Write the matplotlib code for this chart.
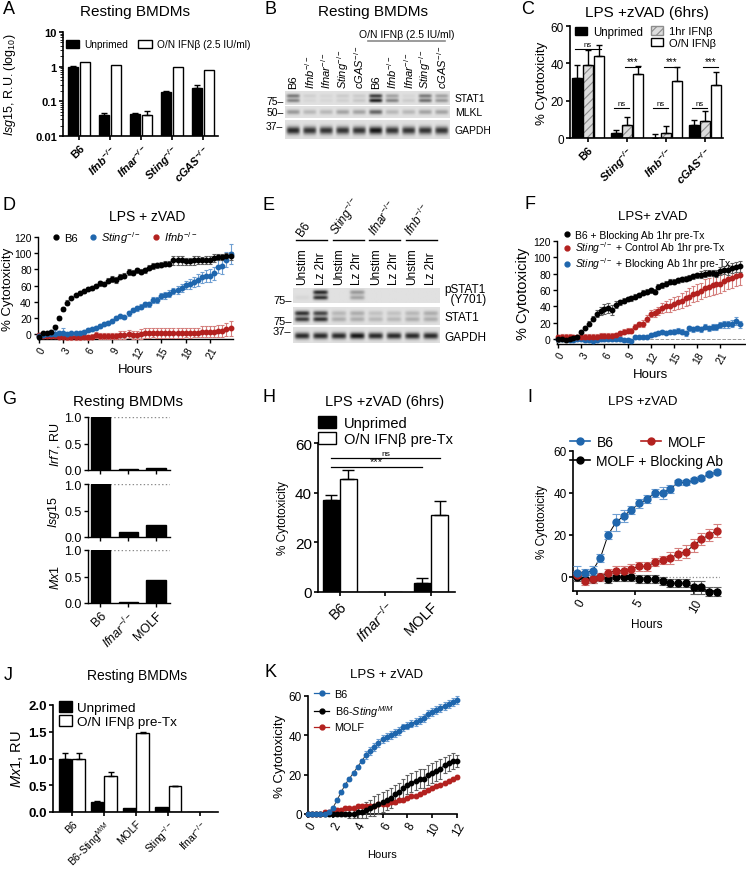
import numpy as np
import matplotlib
matplotlib.use('Agg')
import matplotlib.pyplot as plt
from matplotlib.patches import Patch
from matplotlib.lines import Line2D
from matplotlib.transforms import blended_transform_factory as blend

plt.rcParams['font.family'] = ['Liberation Sans', 'DejaVu Sans']
plt.rcParams['mathtext.fontset'] = 'custom'
plt.rcParams['mathtext.rm'] = 'Liberation Sans'
plt.rcParams['mathtext.it'] = 'Liberation Sans:italic'
plt.rcParams['mathtext.bf'] = 'Liberation Sans:italic:bold'
plt.rcParams['hatch.linewidth'] = 0.8

# ---- A: Isg15 expression (log) ----
A_labels = ['B6', r'$\mathbf{Ifnb}^{\mathbf{-/-}}$', r'$\mathbf{Ifnar}^{\mathbf{-/-}}$',
            r'$\mathbf{Sting}^{\mathbf{-/-}}$', r'$\mathbf{cGAS}^{\mathbf{-/-}}$']
A_unprimed = [1.0, 0.04, 0.043, 0.18, 0.24]
A_unprimed_err = [0.05, 0.006, 0.004, 0.015, 0.06]
A_ifn = [1.35, 1.1, 0.04, 0.95, 0.78]
A_ifn_err = [0, 0, 0.013, 0, 0]

# ---- B: western blot band intensities (10 lanes) ----
B_lanes = ['B6', r'$\mathit{Ifnb}^{-/-}$', r'$\mathit{Ifnar}^{-/-}$', r'$\mathit{Sting}^{-/-}$',
           r'$\mathit{cGAS}^{-/-}$', 'B6', r'$\mathit{Ifnb}^{-/-}$', r'$\mathit{Ifnar}^{-/-}$',
           r'$\mathit{Sting}^{-/-}$', r'$\mathit{cGAS}^{-/-}$']
B_stat1_up = [0.5, 0.08, 0.05, 0.1, 0.1, 0.8, 0.3, 0.05, 0.5, 0.3]
B_stat1_lo = [0.45, 0.05, 0.05, 0.08, 0.12, 0.95, 0.45, 0.1, 0.55, 0.35]
B_mlkl = [0.35, 0.2, 0.2, 0.3, 0.3, 0.6, 0.2, 0.2, 0.3, 0.3]
B_gapdh = [0.9, 0.85, 0.85, 0.85, 0.85, 1.0, 0.85, 0.85, 0.85, 0.85]

# ---- C: cytotoxicity 6 h ----
C_labels = ['B6', r'$\mathbf{Sting}^{\mathbf{-/-}}$', r'$\mathbf{Ifnb}^{\mathbf{-/-}}$',
            r'$\mathbf{cGAS}^{\mathbf{-/-}}$']
C_unprimed = [32, 2.5, 0, 7]
C_unprimed_err = [7, 2, 2, 2.5]
C_1hr = [39, 7, 2.5, 9]
C_1hr_err = [8, 4.5, 4, 5.5]
C_on = [44, 34.5, 30.5, 28.5]
C_on_err = [6, 4, 7.5, 7]
# (group, bar a, bar b, height, label)
C_sig = [(0, 0, 2, 47.5, 'ns'), (1, 0, 1, 16, 'ns'), (1, 1, 2, 38, '***'),
         (2, 0, 1, 16, 'ns'), (2, 1, 2, 38, '***'), (3, 0, 1, 16, 'ns'), (3, 1, 2, 38, '***')]

# ---- D: LPS + zVAD time course, 0.5 h steps ----
D_t = np.arange(0, 24, 0.5)
D_b6 = [-3, 1, 1, 3, 9, 20, 31, 39, 45, 48, 51, 53, 56, 57, 60, 63, 62, 66, 68, 67,
        71, 72, 77, 76, 79, 77, 79, 82, 84, 85, 86, 87, 87, 91, 91, 91, 90, 90, 91, 92,
        91, 92, 92, 94, 95, 95, 96, 97]
D_b6_err = [2, 1, 1, 1, 2, 2, 2, 3, 2, 2, 2, 2, 2, 2, 2, 3, 3, 3, 4, 4, 3, 3, 4, 3,
            3, 3, 3, 3, 4, 3, 3, 3, 3, 5, 6, 5, 4, 4, 5, 5, 4, 5, 5, 5, 4, 4, 4, 5]
D_sting = [-2, -1, 0, 0, 0, 1, 1, 0, 1, 1, 2, 3, 5, 6, 8, 10, 13, 14, 16, 20,
           22, 21, 26, 30, 32, 34, 37, 37, 42, 42, 47, 48, 50, 53, 55, 57, 61, 62, 64, 67,
           70, 72, 72, 75, 83, 84, 92, 99]
D_sting_err = [2, 2, 2, 5, 5, 3, 6, 2, 2, 2, 2, 2, 2, 2, 2, 2, 2, 2, 2, 2, 2, 2, 3, 2,
               3, 3, 3, 3, 4, 4, 4, 4, 4, 4, 5, 5, 5, 6, 6, 7, 7, 7, 8, 8, 8, 10, 9, 12]
D_ifnb = [-1, -2, -2, -2, -2, -3, -3, -4, -4, -4, -4, -3, -4, -3, -1, -2, -2, -2, -2, -2,
          -1, -1, 0, -1, -1, 0, 1, 1, 2, 1, 1, 1, 1, 1, 1, 1, 2, 1, 2, 2,
          3, 3, 3, 3, 4, 4, 6, 7]
D_ifnb_err = [2, 2, 2, 2, 2, 2, 2, 3, 3, 3, 3, 3, 3, 3, 4, 4, 4, 4, 4, 4, 5, 5, 5, 5,
              5, 6, 6, 6, 6, 6, 6, 6, 6, 6, 6, 6, 6, 6, 6, 6, 7, 7, 7, 7, 7, 7, 8, 9]

# ---- E: western blot (8 lanes) ----
E_groups = ['B6', r'$\mathit{Sting}^{-/-}$', r'$\mathit{Ifnar}^{-/-}$', r'$\mathit{Ifnb}^{-/-}$']
E_lanes = ['Unstim', 'Lz 2hr'] * 4
E_pstat1_up = [0, 0.9, 0, 0.35, 0, 0, 0, 0]
E_pstat1_lo = [0.05, 0.85, 0, 0.3, 0, 0, 0, 0]
E_stat1_up = [0.85, 0.75, 0.2, 0.25, 0.15, 0.15, 0.2, 0.25]
E_stat1_lo = [0.8, 0.85, 0.25, 0.25, 0.2, 0.2, 0.25, 0.25]
E_gapdh = [0.9, 0.9, 0.9, 1.0, 0.9, 0.9, 0.9, 0.9]

# ---- F: blocking antibody time course ----
F_t = np.arange(0, 24, 0.5)
F_b6 = [0, 0, -1, 0, 1, 3, 9, 14, 19, 25, 31, 34, 37, 38, 36, 42, 45, 47, 49, 50,
        52, 54, 57, 58, 60, 58, 64, 66, 68, 70, 70, 72, 73, 74, 75, 77, 78, 79, 80, 81,
        81, 80, 83, 85, 85, 87, 88, 89]
F_b6_err = [3, 2, 2, 2, 2, 2, 2, 2, 3, 3, 4, 5, 6, 6, 6, 4, 3, 3, 3, 3, 3, 3, 3, 3,
            3, 3, 3, 3, 3, 3, 3, 3, 3, 3, 3, 3, 3, 4, 4, 4, 4, 4, 5, 5, 6, 6, 6, 7]
F_ctrl = [2, 3, 3, 3, 2, 2, 2, 3, 3, 3, 3, 4, 4, 4, 4, 5, 7, 9, 10, 10,
          15, 18, 19, 25, 31, 32, 34, 38, 40, 41, 43, 45, 47, 50, 52, 55, 57, 59, 62, 64,
          66, 67, 68, 71, 73, 75, 77, 78]
F_ctrl_err = [3, 3, 3, 3, 3, 3, 3, 3, 3, 3, 3, 3, 3, 3, 3, 3, 3, 3, 3, 3, 3, 3, 4, 4,
              4, 5, 5, 6, 7, 8, 8, 8, 9, 9, 10, 10, 10, 10, 11, 11, 12, 12, 12, 12, 12, 12, 12, 12]
F_block = [0, 0, 0, -1, -1, 0, 0, -1, -1, -2, -1, 0, 0, 0, 0, 0, 0, -1, -1, -2,
           2, 2, 3, 3, 5, 6, 7, 9, 8, 9, 9, 10, 9, 7, 13, 12, 13, 12, 15, 13,
           15, 15, 17, 18, 18, 19, 22, 18]
F_block_err = [2, 2, 2, 2, 2, 2, 2, 2, 2, 2, 2, 2, 2, 2, 2, 2, 2, 2, 2, 2, 2, 2, 2, 2,
               2, 2, 2, 2, 2, 2, 3, 3, 3, 3, 3, 3, 3, 3, 3, 3, 4, 4, 4, 4, 4, 4, 5, 4]

# ---- G: resting ISG expression ----
G_labels = ['B6', r'$\mathit{Ifnar}^{-/-}$', 'MOLF']
G_genes = [r'$\mathit{Irf7}$, RU', r'$\mathit{Isg15}$', r'$\mathit{Mx1}$']
G_vals = [[1.0, 0.01, 0.04], [1.0, 0.1, 0.23], [1.0, 0.01, 0.44]]

# ---- H: cytotoxicity 6 h ----
H_labels = ['B6', r'$\mathit{Ifnar}^{-/-}$', 'MOLF']
H_unprimed = [37, 0.2, 3.5]
H_unprimed_err = [2, 0, 2]
H_ifn = [45.5, 0, 31]
H_ifn_err = [3.5, 0, 5.5]
H_sig = [(0, 0, 2, 1, 54, 'ns'), (0, 0, 2, 0, 50.5, '***')]

# ---- I: MOLF time course, 40 min steps ----
I_t = np.arange(19) * 2 / 3
I_b6 = [2, 2, 3, 9, 20, 26, 29, 32, 35, 37, 40, 40, 42, 45, 45, 46, 47, 49, 50]
I_b6_err = [3, 2, 2, 2, 2, 4, 3, 2, 2, 2, 2, 3, 2, 1, 1, 1, 1, 1, 1]
I_molf = [1, -2, -1, 0, 2, 3, 3, 4, 5, 5, 7, 8, 9, 11, 12, 15, 18, 20, 22]
I_molf_err = [2, 2, 2, 2, 2, 2, 2, 2, 2, 2, 2, 2, 3, 3, 3, 3, 3, 3, 3]
I_block = [0, -1, -1, 0, -1, 0, 0, 0, -1, -1, -1, -2, -3, -3, -3, -5, -5, -7, -7]
I_block_err = [2, 2, 2, 2, 2, 2, 2, 2, 2, 2, 2, 2, 2, 2, 2, 3, 3, 2, 2]

# ---- J: Mx1 expression ----
J_labels = ['B6', r'B6-Sting$^{M/M}$', 'MOLF', r'Sting$^{-/-}$', r'Ifnar$^{-/-}$']
J_unprimed = [1.0, 0.18, 0.08, 0.1, 0]
J_unprimed_err = [0.1, 0.02, 0, 0, 0]
J_ifn = [1.0, 0.68, 1.48, 0.48, 0]
J_ifn_err = [0.1, 0.07, 0.02, 0.01, 0]

# ---- K: Sting M/M time course, 20 min steps ----
K_t = np.arange(37) / 3
K_b6 = [0, 0, 0, 0, 0, 1, 3, 7, 11, 15, 18, 21, 24, 27, 30, 32, 34, 36, 38, 39,
        40, 41, 42, 44, 45, 46, 47, 48, 49, 51, 52, 53, 54, 55, 56, 57, 58]
K_b6_err = [1, 1, 1, 1, 1, 1, 1, 1, 1, 1, 1, 1, 1, 1, 2, 2, 2, 2, 2, 2, 2, 2, 2, 2,
            2, 2, 2, 2, 2, 2, 2, 2, 2, 2, 2, 2, 2]
K_sting = [0, 0, 0, 0, 0, 0, 0, 0, 0, 0, 0, 0, 1, 1, 2, 3, 4, 5, 6, 7, 8, 10,
           11, 13, 15, 16, 17, 18, 18, 20, 21, 22, 23, 25, 26, 27, 27]
K_sting_err = [1, 1, 1, 1, 1, 1, 1, 1, 1, 1, 2, 2, 3, 3, 4, 4, 5, 5, 5, 5, 5, 5,
               5, 5, 5, 5, 5, 5, 5, 5, 5, 5, 5, 4, 4, 4, 3]
K_molf = [0, 0, 0, 0, 1, 1, 1, 2, 2, 3, 3, 3, 4, 4, 4, 4, 4, 5, 5, 5,
          6, 6, 7, 7, 8, 9, 9, 10, 11, 12, 13, 14, 15, 16, 17, 18, 19]
K_molf_err = [1, 1, 1, 1, 1, 1, 1, 1, 1, 1, 1, 1, 1, 1, 1, 1, 1, 1, 1, 1, 1, 1, 1, 1,
              1, 1, 1, 1, 1, 1, 1, 1, 1, 1, 1, 1, 1]

BLUE, BLUE_E = '#1f66ad', '#6f9fd2'
RED, RED_E = '#b3211f', '#d5807e'
BLK, BLK_E = '#000000', '#606060'

W, H = 746, 878
fig = plt.figure(figsize=(W / 100, H / 100), dpi=100)


def add_ax(l, t, r, b):
    return fig.add_axes([l / W, 1 - b / H, (r - l) / W, (b - t) / H])


def ftext(x, y, s, **kw):
    kw.setdefault('ha', 'center')
    kw.setdefault('va', 'center')
    fig.text(x / W, 1 - y / H, s, **kw)


def style(ax, lw=1.0, fs=8):
    for s in ('top', 'right'):
        ax.spines[s].set_visible(False)
    for s in ('left', 'bottom'):
        ax.spines[s].set_linewidth(lw)
    ax.tick_params(direction='out', length=3, width=lw, labelsize=fs, pad=1.5)


def bars(ax, x, vals, errs, face='k', width=0.3, bottom=0, hatch=None, cap=2.5):
    v = np.asarray(vals, float)
    if hatch:
        ax.bar(x, v - bottom, width, bottom=bottom, color='#dcdcdc', edgecolor='#8c8c8c',
               hatch=hatch, lw=0)
        ax.bar(x, v - bottom, width, bottom=bottom, fill=False, edgecolor='k', lw=1)
    else:
        ax.bar(x, v - bottom, width, bottom=bottom, color=face, edgecolor='k', lw=1)
    e = np.asarray(errs, float)
    m = e > 0
    if m.any():
        ax.errorbar(np.asarray(x)[m], v[m], yerr=[np.zeros(m.sum()), e[m]], fmt='none',
                    ecolor='k', elinewidth=1, capsize=cap, capthick=1)


def tc(ax, t, y, e, c, ec, ms=3.2, line=None, cap=1.6):
    if line:
        ax.plot(t, y, color=line, lw=0.7, zorder=2)
    eb = ax.errorbar(t, y, yerr=e, fmt='o', ms=ms, mfc=c, mec=c, ecolor=ec, elinewidth=0.8,
                     capsize=cap, capthick=0.8, zorder=3)
    for a in eb.get_children():
        a.set_clip_on(False)


def blot(ax, rows, n, bg=0.88):
    nx, ny = 40, 30
    x = (np.arange(n * nx) + 0.5) / nx
    y = (np.arange(ny) + 0.5) / ny
    img = np.full((ny, n * nx), bg)
    for yc, hw, ints in rows:
        for i, v in enumerate(ints):
            xp = np.exp(-((x - (i + 0.5)) / 0.40) ** 6)
            yp = np.exp(-((y - yc) / hw) ** 2)
            img -= v * 0.8 * np.outer(yp, xp)
    ax.imshow(np.clip(img, 0, 1), cmap='gray', vmin=0, vmax=1, aspect='auto',
              extent=[0, n, 1, 0], interpolation='bilinear')
    ax.set_xlim(0, n)
    ax.set_axis_off()


# ================= A =================
ftext(9, 10, 'A', fontsize=13)
ftext(135, 12, 'Resting BMDMs', fontsize=11)
axA = add_ax(63, 33, 218, 137)
style(axA, lw=1.2)
xa = np.arange(len(A_labels))
axA.set_yscale('log')
bars(axA, xa - 0.19, A_unprimed, A_unprimed_err, 'k', 0.31, bottom=0.01)
bars(axA, xa + 0.19, A_ifn, A_ifn_err, 'white', 0.31, bottom=0.01)
axA.set_ylim(0.01, 10)
axA.set_xlim(-0.52, 4.48)
axA.set_yticks([0.01, 0.1, 1, 10], ['0.01', '0.1', '1', '10'], fontweight='bold', fontsize=8)
axA.set_xticks(xa, A_labels, rotation=45, ha='right', rotation_mode='anchor',
               fontweight='bold', fontsize=8)
axA.set_ylabel(r'$\mathit{Isg15}$, R.U. (log$_{10}$)', fontsize=9, labelpad=12)
axA.legend([Patch(fc='k', ec='k'), Patch(fc='white', ec='k')],
           ['Unprimed', 'O/N IFNβ (2.5 IU/ml)'], ncol=2, loc='upper left',
           bbox_to_anchor=(0.02, 0.93), frameon=False, fontsize=7.3, handlelength=1.3,
           handleheight=0.8, columnspacing=1.0, handletextpad=0.5, borderaxespad=0, borderpad=0)

# ================= B =================
ftext(270, 9, 'B', fontsize=13)
ftext(373, 12, 'Resting BMDMs', fontsize=11)
b1 = add_ax(285, 92, 450, 106)
b2 = add_ax(285, 107, 450, 119)
b3 = add_ax(285, 121, 450, 140)
blot(b1, [(0.35, 0.14, B_stat1_up), (0.68, 0.14, B_stat1_lo)], 10)
blot(b2, [(0.5, 0.2, B_mlkl)], 10)
blot(b3, [(0.55, 0.2, B_gapdh)], 10)
tr = blend(b1.transData, b1.transAxes)
for i, lab in enumerate(B_lanes):
    b1.text(i + 0.5, 1.2, lab, transform=tr, rotation=90, ha='center', va='bottom', fontsize=8)
b1.plot([5.0, 9.7], [4.57, 4.57], color='#8a8a8a', lw=1.2, transform=tr, clip_on=False)
b1.text(7.4, 4.7, 'O/N IFNβ (2.5 IU/ml)', transform=tr, ha='center', va='bottom', fontsize=7.5)
for ax, lab, mk, my in [(b1, 'STAT1', '75–', 0.29), (b2, 'MLKL', '50–', 0.5), (b3, 'GAPDH', '37–', 0.68)]:
    ax.text(1.03, 0.5, lab, transform=ax.transAxes, ha='left', va='center', fontsize=7.5)
    ax.text(-0.01, my, mk, transform=ax.transAxes, ha='right', va='center', fontsize=7.5)

# ================= C =================
ftext(528, 10, 'C', fontsize=13)
ftext(647, 13, 'LPS +zVAD (6hrs)', fontsize=11)
axC = add_ax(570, 27, 723, 139)
style(axC, lw=1.2, fs=8.5)
xc = np.arange(len(C_labels))
off = [-0.28, 0, 0.28]
bars(axC, xc + off[0], C_unprimed, C_unprimed_err, 'k', 0.26)
bars(axC, xc + off[1], C_1hr, C_1hr_err, width=0.26, hatch='////')
bars(axC, xc + off[2], C_on, C_on_err, 'white', 0.26)
for g, a, b, yv, lab in C_sig:
    axC.plot([g + off[a] - 0.05, g + off[b] + 0.05], [yv, yv], color='k', lw=0.8)
    axC.text(g + (off[a] + off[b]) / 2, yv + 0.5, lab, ha='center', va='bottom',
             fontsize=5.5 if lab == 'ns' else 7)
axC.set_ylim(0, 60)
axC.set_xlim(-0.46, 3.46)
axC.set_yticks([0, 20, 40, 60])
axC.set_xticks(xc, C_labels, rotation=45, ha='right', rotation_mode='anchor',
               fontweight='bold', fontsize=8)
axC.set_ylabel('% Cytotoxicity', fontsize=9.5, labelpad=2)
lg1 = axC.legend([Patch(fc='k', ec='k')], ['Unprimed'], loc='upper left',
                 bbox_to_anchor=(0.03, 1.0), frameon=False, fontsize=8.3, handlelength=1.1,
                 handleheight=0.8, handletextpad=0.5, borderaxespad=0, borderpad=0)
axC.add_artist(lg1)
axC.legend([Patch(fc='#dcdcdc', ec='#8c8c8c', hatch='////'), Patch(fc='white', ec='k')],
           ['1hr IFNβ', 'O/N IFNβ'], loc='upper left', bbox_to_anchor=(0.53, 1.0),
           frameon=False, fontsize=8, handlelength=1.1, handleheight=0.8, handletextpad=0.5,
           labelspacing=0.15, borderaxespad=0, borderpad=0)

# ================= D =================
ftext(9, 206, 'D', fontsize=13)
ftext(147, 217, 'LPS + zVAD', fontsize=10)
axD = add_ax(38, 238, 233, 340)
style(axD, lw=1.0, fs=7.5)
tc(axD, D_t, D_ifnb, D_ifnb_err, RED, RED_E)
tc(axD, D_t, D_sting, D_sting_err, BLUE, BLUE_E)
tc(axD, D_t, D_b6, D_b6_err, BLK, BLK_E)
axD.set_ylim(-6, 120)
axD.set_xlim(-0.1, 23.8)
axD.set_yticks(np.arange(0, 121, 20))
axD.set_xticks(np.arange(0, 22, 3))
axD.tick_params(axis='x', labelrotation=60)
for lab in axD.get_xticklabels():
    lab.set_ha('right'); lab.set_rotation_mode('anchor')
axD.set_ylabel('% Cytotoxicity', fontsize=9.5, labelpad=0)
axD.set_xlabel('Hours', fontsize=9.5, labelpad=2)
axD.legend([Line2D([], [], marker='o', ls='none', color=c, ms=3.5) for c in (BLK, BLUE, RED)],
           ['B6', r'$\mathit{Sting}^{-/-}$', r'$\mathit{Ifnb}^{-/-}$'], ncol=3,
           loc='center left', bbox_to_anchor=(0.07, 1.0), frameon=False, fontsize=8,
           handlelength=0.8, handletextpad=0.3, columnspacing=1.0, borderaxespad=0, borderpad=0)

# ================= E =================
ftext(269, 206, 'E', fontsize=13)
e1 = add_ax(293, 289, 440, 304)
e2 = add_ax(293, 308, 440, 326)
e3 = add_ax(293, 328, 440, 344)
blot(e1, [(0.33, 0.14, E_pstat1_up), (0.66, 0.14, E_pstat1_lo)], 8)
blot(e2, [(0.35, 0.14, E_stat1_up), (0.68, 0.14, E_stat1_lo)], 8)
blot(e3, [(0.55, 0.2, E_gapdh)], 8)
tr = blend(e1.transData, e1.transAxes)
for i, lab in enumerate(E_lanes):
    e1.text(i + 0.5, 1.27, lab, transform=tr, rotation=90, ha='center', va='bottom', fontsize=8.5)
for k, lab in enumerate(E_groups):
    e1.plot([2 * k + 0.15, 2 * k + 1.85], [4.2, 4.2], color='k', lw=1.0, transform=tr, clip_on=False)
    e1.text(2 * k + 0.6, 4.35, lab, transform=tr, rotation=55, ha='left', va='bottom',
            rotation_mode='anchor', fontsize=8.5)
e1.text(1.03, 0.6, 'pSTAT1\n  (Y701)', transform=e1.transAxes, ha='left', va='center',
        fontsize=8.5, linespacing=0.8)
e1.text(-0.01, 0.2, '75–', transform=e1.transAxes, ha='right', va='center', fontsize=8)
e2.text(1.03, 0.44, 'STAT1', transform=e2.transAxes, ha='left', va='center', fontsize=8.5)
e2.text(-0.01, 0.22, '75–', transform=e2.transAxes, ha='right', va='center', fontsize=8)
e3.text(1.03, 0.38, 'GAPDH', transform=e3.transAxes, ha='left', va='center', fontsize=8.5)
e3.text(-0.01, 0.75, '37–', transform=e3.transAxes, ha='right', va='center', fontsize=8)

# ================= F =================
ftext(530, 205, 'F', fontsize=13)
ftext(653, 217, 'LPS+ zVAD', fontsize=9.5)
axF = add_ax(557, 242, 745, 345)
style(axF, lw=1.0, fs=7.5)
axF.axhline(0, ls='--', color='#9a9a9a', lw=0.7, zorder=1)
tc(axF, F_t, F_block, F_block_err, BLUE, BLUE_E)
tc(axF, F_t, F_ctrl, F_ctrl_err, RED, RED_E)
tc(axF, F_t, F_b6, F_b6_err, BLK, BLK_E)
axF.set_ylim(-6, 120)
axF.set_xlim(-0.13, 24.2)
axF.set_yticks(np.arange(0, 121, 20))
axF.set_xticks(np.arange(0, 22, 3))
axF.tick_params(axis='x', labelrotation=60)
for lab in axF.get_xticklabels():
    lab.set_ha('right'); lab.set_rotation_mode('anchor')
axF.set_ylabel('% Cytotoxicity', fontsize=10.5, labelpad=2)
axF.set_xlabel('Hours', fontsize=9.5, labelpad=2)
axF.legend([Line2D([], [], marker='o', ls='none', color=c, ms=3.5) for c in (BLK, RED, BLUE)],
           ['B6 + Blocking Ab 1hr pre-Tx', r'$\mathit{Sting}^{-/-}$ + Control Ab 1hr pre-Tx',
            r'$\mathit{Sting}^{-/-}$ + Blocking Ab 1hr pre-Tx'],
           loc='upper left', bbox_to_anchor=(0.03, 1.11), frameon=False, fontsize=7.5,
           handlelength=0.8, handletextpad=0.4, labelspacing=0.0, borderaxespad=0, borderpad=0)

# ================= G =================
ftext(9, 400, 'G', fontsize=13)
ftext(128, 402, 'Resting BMDMs', fontsize=11)
xg = np.arange(len(G_labels))
for k, (top, bot) in enumerate([(418, 471), (485, 538), (551, 604)]):
    ax = add_ax(88, top, 170, bot)
    style(ax, lw=1.0, fs=9)
    ax.bar(xg, G_vals[k], 0.68, color='k', edgecolor='k', lw=1)
    ax.axhline(1.0, ls=':', color='#8a8a8a', lw=1.0, zorder=0)
    ax.set_ylim(0, 1.0)
    ax.set_xlim(-0.43, 2.5)
    ax.set_yticks([0, 0.5, 1.0], ['0.0', '0.5', '1.0'])
    ax.set_ylabel(G_genes[k], fontsize=9, labelpad=2)
    if k < 2:
        ax.set_xticks(xg, [''] * len(xg))
    else:
        ax.set_xticks(xg, G_labels, rotation=45, ha='right', rotation_mode='anchor', fontsize=9)

# ================= H =================
ftext(269, 398, 'H', fontsize=13)
ftext(385, 402, 'LPS +zVAD (6hrs)', fontsize=10.5)
axH = add_ax(318, 444, 455, 593)
style(axH, lw=1.2, fs=11)
xh = np.arange(len(H_labels))
hoff = [-0.19, 0.19]
bars(axH, xh + hoff[0], H_unprimed, H_unprimed_err, 'k', 0.37, cap=4)
bars(axH, xh + hoff[1], H_ifn, H_ifn_err, 'white', 0.37, cap=4)
for ga, ba, gb, bb, yv, lab in H_sig:
    axH.plot([ga + hoff[ba], gb + hoff[bb]], [yv, yv], color='k', lw=0.9)
    axH.text((ga + hoff[ba] + gb + hoff[bb]) / 2, yv + 0.3, lab, ha='center', va='bottom',
             fontsize=6 if lab == 'ns' else 8)
axH.set_ylim(0, 60)
axH.set_xlim(-0.48, 2.53)
axH.set_yticks([0, 20, 40, 60])
axH.set_xticks(xh, H_labels, rotation=45, ha='right', rotation_mode='anchor', fontsize=10.5)
axH.set_ylabel('% Cytotoxicity', fontsize=8.5, labelpad=4)
axH.legend([Patch(fc='k', ec='k'), Patch(fc='white', ec='k')], ['Unprimed', 'O/N IFNβ pre-Tx'],
           loc='upper left', bbox_to_anchor=(0.0, 1.18), frameon=False, fontsize=10.5,
           handlelength=1.2, handleheight=0.9, handletextpad=0.6, labelspacing=0.1,
           borderaxespad=0, borderpad=0)

# ================= I =================
ftext(530, 398, 'I', fontsize=13)
ftext(643, 402, 'LPS +zVAD', fontsize=9.5)
axI = add_ax(573, 452, 720, 592)
style(axI, lw=1.2, fs=8.5)
axI.axhline(0, ls=':', color='#8a8a8a', lw=0.9, zorder=1)
tc(axI, I_t, I_block, I_block_err, BLK, BLK_E, ms=5, line='k', cap=3)
tc(axI, I_t, I_molf, I_molf_err, RED, RED_E, ms=5, line='k', cap=3)
tc(axI, I_t, I_b6, I_b6_err, BLUE, BLUE_E, ms=5, line='k', cap=3)
axI.set_ylim(-6.7, 60)
axI.set_xlim(-0.34, 12.26)
axI.set_yticks([0, 20, 40, 60])
axI.set_xticks([0, 5, 10])
axI.tick_params(axis='x', labelrotation=60)
for lab in axI.get_xticklabels():
    lab.set_ha('right'); lab.set_rotation_mode('anchor')
axI.set_ylabel('% Cytotoxicity', fontsize=8.5, labelpad=4)
axI.set_xlabel('Hours', fontsize=8.5, labelpad=2)
lgI = axI.legend([Line2D([], [], marker='o', color=c, ms=5, lw=1.2) for c in (BLUE, RED)],
                 ['B6', 'MOLF'], ncol=2, loc='upper left', bbox_to_anchor=(-0.02, 1.115),
                 frameon=False, fontsize=10, handlelength=1.4, handletextpad=0.5,
                 columnspacing=2.0, borderaxespad=0, borderpad=0)
axI.add_artist(lgI)
axI.legend([Line2D([], [], marker='o', color=BLK, ms=5, lw=1.2)], ['MOLF + Blocking Ab'],
           loc='upper left', bbox_to_anchor=(-0.02, 0.98), frameon=False, fontsize=10,
           handlelength=1.4, handletextpad=0.5, borderaxespad=0, borderpad=0)

# ================= J =================
ftext(8, 676, 'J', fontsize=13)
ftext(137, 676, 'Resting BMDMs', fontsize=10)
axJ = add_ax(53, 706, 218, 813)
style(axJ, lw=1.2)
xj = np.arange(len(J_labels))
bars(axJ, xj - 0.21, J_unprimed, J_unprimed_err, 'k', 0.39)
bars(axJ, xj + 0.21, J_ifn, J_ifn_err, 'white', 0.39)
axJ.set_ylim(0, 2.0)
axJ.set_xlim(-0.59, 4.56)
axJ.set_yticks([0, 0.5, 1.0, 1.5, 2.0], ['0.0', '0.5', '1.0', '1.5', '2.0'],
               fontweight='bold', fontsize=9.5)
axJ.set_xticks(xj, J_labels, rotation=45, ha='right', rotation_mode='anchor', fontsize=7.5)
axJ.set_ylabel(r'$\mathit{Mx1}$, RU', fontsize=10.5, labelpad=2)
axJ.legend([Patch(fc='k', ec='k'), Patch(fc='white', ec='k')], ['Unprimed', 'O/N IFNβ pre-Tx'],
           loc='upper left', bbox_to_anchor=(0.036, 1.04), frameon=False, fontsize=9.7,
           handlelength=0.95, handleheight=0.95, handletextpad=0.4, labelspacing=0.05,
           borderaxespad=0, borderpad=0)

# ================= K =================
ftext(270, 673, 'K', fontsize=13)
ftext(387, 675, 'LPS + zVAD', fontsize=9.5)
axK = add_ax(308, 697, 457, 815)
style(axK, lw=1.2, fs=8.5)
tc(axK, K_t, K_molf, K_molf_err, RED, RED_E, ms=3.2, line='#333333')
tc(axK, K_t, K_sting, K_sting_err, BLK, BLK_E, ms=3.2, line='#333333')
tc(axK, K_t, K_b6, K_b6_err, BLUE, BLUE_E, ms=3.2, line='#333333')
axK.set_ylim(0, 60)
axK.set_xlim(0, 12)
axK.set_yticks([0, 20, 40, 60])
axK.set_xticks(np.arange(0, 13, 2))
axK.tick_params(axis='x', labelrotation=60)
for lab in axK.get_xticklabels():
    lab.set_ha('right'); lab.set_rotation_mode('anchor')
axK.set_ylabel('% Cytotoxicity', fontsize=9.5, labelpad=2)
axK.set_xlabel('Hours', fontsize=8, labelpad=8)
axK.legend([Line2D([], [], marker='o', color=c, ms=3.5, lw=0.9) for c in (BLUE, BLK, RED)],
           ['B6', r'B6-$\mathit{Sting}^{M/M}$', 'MOLF'], loc='upper left',
           bbox_to_anchor=(0.04, 1.06), frameon=False, fontsize=7.8, handlelength=1.4,
           handletextpad=0.5, labelspacing=0.35, borderaxespad=0, borderpad=0)

fig.savefig('out.png', dpi=100, facecolor='white')
